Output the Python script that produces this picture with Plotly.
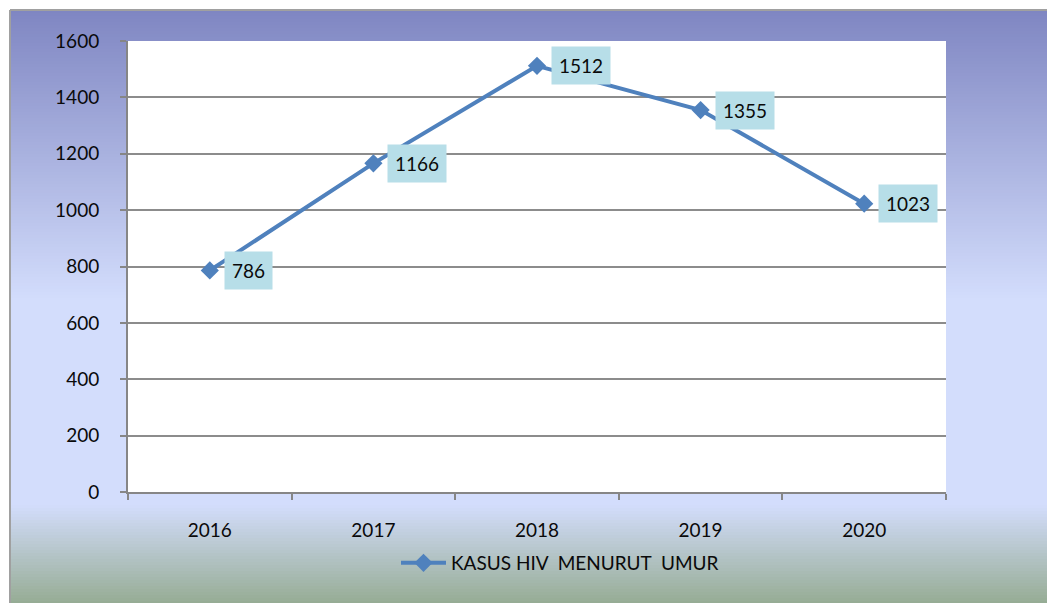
import plotly.graph_objects as go

years = ["2016", "2017", "2018", "2019", "2020"]
cases = [786, 1166, 1512, 1355, 1023]
series_name = "KASUS HIV  MENURUT  UMUR"

OFF = 8  # page body margin
W, H = 1055 - OFF, 603 - OFF
L, R, T, B = 128 - OFF, 946 - OFF, 41 - OFF, 492 - OFF

def px_x(p):
    return (p - OFF - L) / (R - L)

def px_y(p):
    return (B - (p - OFF)) / (B - T)

def lerp(c1, c2, t):
    return tuple(round(a + (b - a) * t) for a, b in zip(c1, c2))

stops = [(10, (127, 134, 194)), (300, (211, 221, 252)), (505, (211, 221, 252)), (603, (150, 172, 148))]

def color_at(py):
    for (y0, c0), (y1, c1) in zip(stops[:-1], stops[1:]):
        if y0 <= py <= y1:
            return lerp(c0, c1, (py - y0) / (y1 - y0))
    return stops[-1][1]

shapes = []
step = 3
py = 10
while py < 603:
    c = color_at(py + step / 2)
    shapes.append(dict(type="rect", xref="paper", yref="paper", layer="below",
                       x0=px_x(10), x1=px_x(1065), y0=px_y(py), y1=px_y(py + step + 0.5),
                       fillcolor="rgb(%d,%d,%d)" % c, line=dict(width=0)))
    py += step
shapes.append(dict(type="rect", xref="paper", yref="paper", layer="below",
                   x0=0, x1=1, y0=0, y1=1, fillcolor="white", line=dict(width=0)))
shapes.append(dict(type="line", xref="paper", yref="paper", layer="below",
                   x0=px_x(10), x1=px_x(10), y0=px_y(10), y1=px_y(610),
                   line=dict(color="#a0a0a0", width=2)))
shapes.append(dict(type="line", xref="paper", yref="paper", layer="below",
                   x0=px_x(10), x1=px_x(1065), y0=px_y(10), y1=px_y(10),
                   line=dict(color="#a0a0a0", width=2)))

fig = go.Figure()
fig.add_trace(go.Scatter(
    x=years, y=cases, mode="lines+markers", name=series_name,
    line=dict(color="#4f81bd", width=4),
    marker=dict(symbol="diamond", size=14, color="#4f81bd"),
))

annotations = []
for i, v in enumerate(cases):
    annotations.append(dict(x=i, y=v, xref="x", yref="y", text=str(v), showarrow=False,
                            xanchor="left", yanchor="middle", xshift=14,
                            bgcolor="#b7dee8", borderpad=7,
                            font=dict(family="Lato", size=19, color="#0a0a0a")))

fig.update_layout(
    width=W, height=H,
    margin=dict(l=L, r=W - R, t=T, b=H - B),
    paper_bgcolor="white", plot_bgcolor="white",
    shapes=shapes, annotations=annotations,
    font=dict(family="Lato", size=19, color="#0a0a0a"),
    showlegend=True,
    legend=dict(orientation="h", x=px_x(560), y=px_y(563), xanchor="center", yanchor="middle",
                itemwidth=45,
                bgcolor="rgba(0,0,0,0)", font=dict(family="Lato", size=19, color="#0a0a0a")),
    xaxis=dict(type="category", range=[-0.5, len(years) - 0.5], showline=True,
               linecolor="#868686", linewidth=2,
               ticks="outside", tickson="boundaries", ticklen=6, tickcolor="#868686", tickwidth=2,
               showgrid=False, ticklabelstandoff=20, tickfont=dict(size=19), tickangle=0),
    yaxis=dict(range=[0, 1600], dtick=200, showline=True, linecolor="#868686", linewidth=2,
               ticks="outside", ticklen=6, tickcolor="#868686", tickwidth=2,
               showgrid=True, gridcolor="#8c8c8c", gridwidth=1.5, zeroline=False,
               tickfont=dict(size=19), ticklabelstandoff=17),
)

fig.write_html("out.html")
